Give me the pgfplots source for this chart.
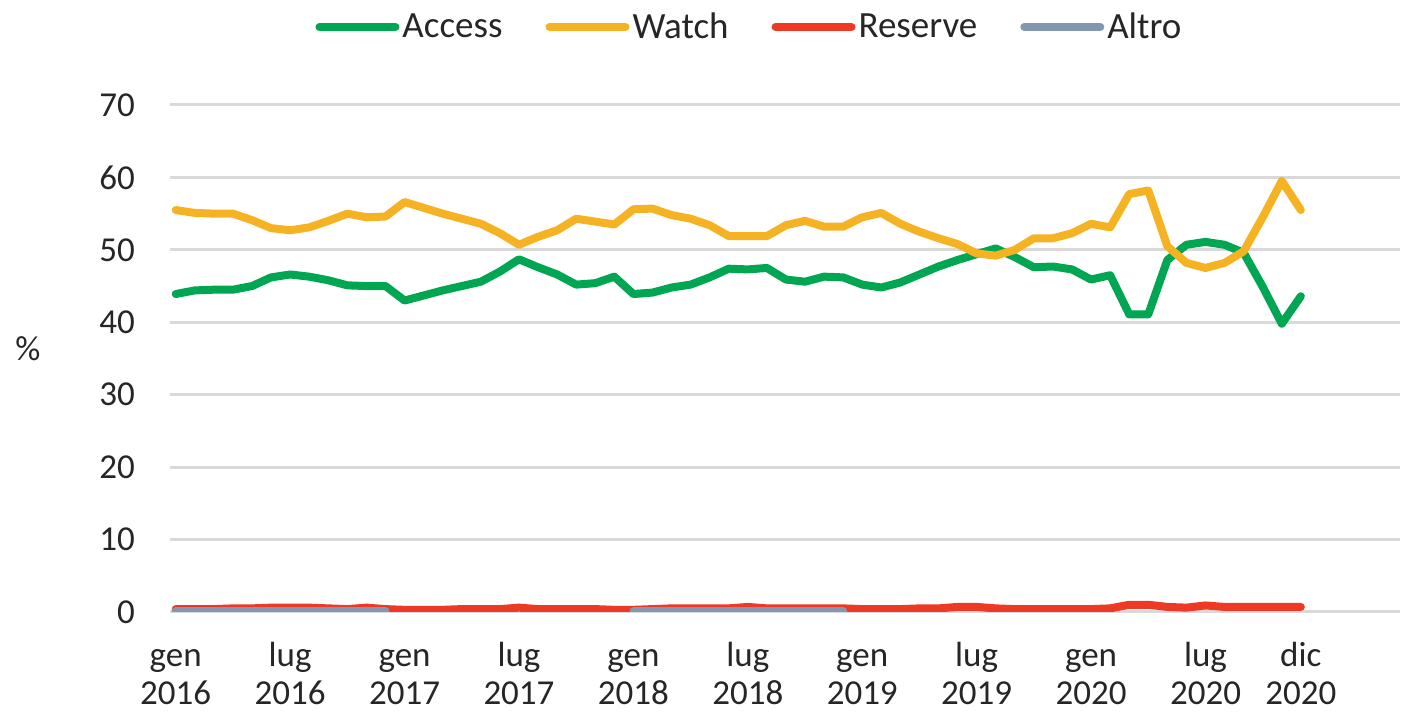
\documentclass[border=0pt]{standalone}
\usepackage{fontspec}
\setmainfont{Carlito}
\usepackage{pgfplots}
\usepackage{pgfplotstable}
\pgfplotsset{compat=1.18}

\definecolor{cAccess}{HTML}{00A651}
\definecolor{cWatch}{HTML}{F5B324}
\definecolor{cReserve}{HTML}{EE3A24}
\definecolor{cAltro}{HTML}{8497B0}
\definecolor{cGrid}{HTML}{D9D9D9}

% monthly share, gen 2016 (0) .. dic 2020 (59)
\pgfplotstableread{
m  acc   wat   res  alt
0  43.9  55.5  0.4  0.1
1  44.4  55.1  0.4  0.1
2  44.5  55.0  0.4  0.1
3  44.5  55.0  0.5  0.1
4  45.0  54.1  0.5  0.1
5  46.2  53.0  0.6  0.1
6  46.6  52.7  0.6  0.1
7  46.3  53.1  0.6  0.1
8  45.8  54.0  0.5  0.1
9  45.1  55.0  0.4  0.1
10 45.0  54.5  0.6  0.1
11 45.0  54.6  0.4  0.1
12 43.0  56.6  0.3  nan
13 43.7  55.8  0.3  nan
14 44.4  55.0  0.3  nan
15 45.0  54.3  0.4  nan
16 45.6  53.6  0.4  nan
17 47.0  52.3  0.4  nan
18 48.7  50.7  0.6  nan
19 47.6  51.8  0.4  nan
20 46.6  52.7  0.4  nan
21 45.2  54.3  0.4  nan
22 45.4  53.9  0.4  nan
23 46.3  53.5  0.3  nan
24 43.9  55.6  0.3  0.1
25 44.1  55.7  0.4  0.1
26 44.8  54.8  0.5  0.1
27 45.2  54.3  0.5  0.1
28 46.2  53.4  0.5  0.1
29 47.4  51.9  0.5  0.1
30 47.3  51.9  0.7  0.1
31 47.5  51.9  0.5  0.1
32 45.9  53.4  0.5  0.1
33 45.6  54.0  0.5  0.1
34 46.3  53.2  0.5  0.1
35 46.2  53.2  0.5  0.1
36 45.2  54.5  0.4  nan
37 44.8  55.1  0.4  nan
38 45.5  53.6  0.4  nan
39 46.6  52.5  0.5  nan
40 47.7  51.6  0.5  nan
41 48.6  50.8  0.7  nan
42 49.4  49.5  0.7  nan
43 50.2  49.2  0.5  nan
44 49.0  50.0  0.4  nan
45 47.6  51.6  0.4  nan
46 47.7  51.6  0.4  nan
47 47.3  52.3  0.4  nan
48 45.9  53.6  0.4  nan
49 46.5  53.1  0.5  nan
50 41.1  57.7  1.0  nan
51 41.1  58.2  1.0  nan
52 48.6  50.5  0.7  nan
53 50.7  48.2  0.6  nan
54 51.1  47.5  0.9  nan
55 50.7  48.2  0.7  nan
56 49.6  49.8  0.7  nan
57 44.9  54.5  0.7  nan
58 39.8  59.5  0.7  nan
59 43.6  55.5  0.7  nan
}\shares

\begin{document}
\begin{tikzpicture}
\useasboundingbox (0,0) rectangle (704pt,358pt);
\begin{axis}[
  at={(85pt,52pt)}, anchor=south west,
  width=615pt, height=253.5pt, scale only axis,
  xmin=-0.3, xmax=64.2, ymin=0, ymax=70,
  axis line style={draw=none},
  major tick length=0pt,
  ytick={0,10,...,70},
  xtick={0,6,12,18,24,30,36,42,48,54,59},
  xticklabels={{\strut gen\\2016},{\strut lug\\2016},{\strut gen\\2017},{\strut lug\\2017},{\strut gen\\2018},{\strut lug\\2018},{\strut gen\\2019},{\strut lug\\2019},{\strut gen\\2020},{\strut lug\\2020},{\strut dic\\2020}},
  ymajorgrids,
  grid style={cGrid, line width=1.5pt},
  /pgf/number format/assume math mode=true,
  tick label style={font=\fontsize{17.5}{19}\selectfont, text=black!85},
  xticklabel style={align=center, inner ysep=0pt, yshift=-14pt},
  yticklabel style={xshift=-14pt},
  ylabel={\%},
  every axis y label/.style={at={(rel axis cs:0,0.52)}, anchor=center, xshift=-71pt,
    font=\fontsize{17.5}{19}\selectfont, text=black!85},
  unbounded coords=jump,
  every axis plot/.append style={line width=4pt, line cap=round, line join=round},
  legend columns=-1,
  legend style={at={(0.4715,1.154)}, anchor=center, draw=none, fill=none,
    font=\fontsize{18.5}{20}\selectfont, text=black!85,
    /tikz/every even column/.append style={column sep=20pt},
    nodes={inner xsep=1.5pt}},
  legend image code/.code={\draw[#1] (2pt,0pt) -- (40pt,0pt);},
]
\addplot[cAccess] table[x=m, y=acc] {\shares};
\addlegendentry{Access}
\addplot[cWatch] table[x=m, y=wat] {\shares};
\addlegendentry{Watch}
\addplot[cReserve] table[x=m, y=res] {\shares};
\addlegendentry{Reserve}
\addplot[cAltro] table[x=m, y=alt] {\shares};
\addlegendentry{Altro}
\end{axis}
\end{tikzpicture}
\end{document}
